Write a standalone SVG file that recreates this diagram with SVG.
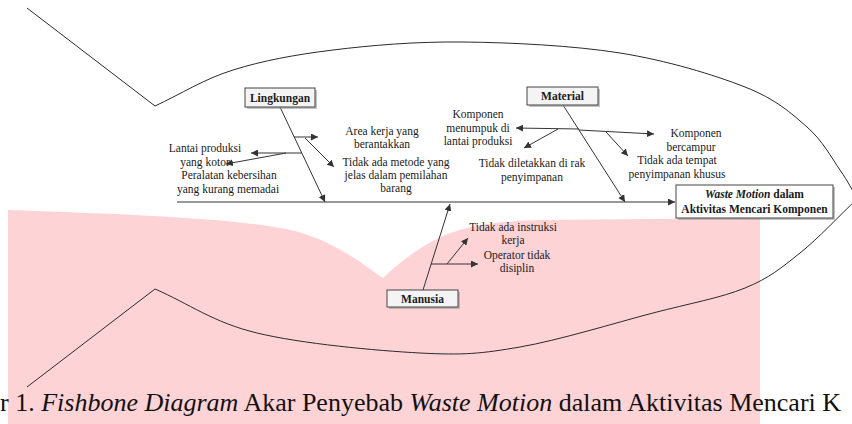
<svg xmlns="http://www.w3.org/2000/svg" width="852" height="424" viewBox="0 0 852 424">
<style>
.bg{fill:#ffffff}
.pink{fill:#fed3d6}
.fish{fill:none;stroke:#2a2a2a;stroke-width:1}
.bone{fill:none;stroke:#333;stroke-width:1;marker-end:url(#ah)}
.t{font-family:"Liberation Serif","Times New Roman",serif;font-size:11.5px;fill:#1a1a1a;text-anchor:middle}
.b{font-weight:bold}
.box{fill:#f4f4f4;stroke:#444;stroke-width:1}
.ebox{fill:#ffffff;stroke:#444;stroke-width:1}
.shadow{fill:#9a9a9a;opacity:0.6}
.cap{font-family:"Liberation Serif","Times New Roman",serif;font-size:26px;fill:#111}
</style>
<defs>
<marker id="ah" markerUnits="userSpaceOnUse" markerWidth="8" markerHeight="7" refX="7" refY="3.5" orient="auto">
<path d="M0,0 L7,3.5 L0,7 Z" fill="#333"/>
</marker>
<linearGradient id="g1" x1="0" y1="0" x2="0" y2="1">
<stop offset="0" stop-color="#ffffff"/>
<stop offset="1" stop-color="#e4e4e4"/>
</linearGradient>
</defs>
<rect class="bg" x="0" y="0" width="852" height="424"/>
<path class="pink" d="M8,210 C120,214 240,218 295,231 C335,242 360,262 383,278 C400,262 420,246 445,235 C470,225 500,221 540,220 L760,218 L760,424 L8,424 Z"/>

<g id="fish">
<path class="fish" d="M27,8 L155,106 C181,94 203.3,79.3 233,70 C262.7,60.7 294.7,54.7 333,50 C371.3,45.3 415.2,41.5 463,42 C510.8,42.5 573,45.5 620,53 C667,60.5 713.8,74.7 745,87 C776.2,99.3 791.2,113.2 807,127 C822.8,140.8 831.5,157.8 840,170 C848.5,182.2 852,190 858,200"/>
<path class="fish" d="M27,387 L155,289 C189,303.7 212.8,322.3 257,333 C301.2,343.7 376.2,350.7 420,353 C463.8,355.3 481.2,353.7 520,347 C558.8,340.3 615.5,322.8 653,313 C690.5,303.2 720.5,298 745,288 C769.5,278 781.2,268 800,253 C818.8,238 838.7,216.3 858,198"/>
</g>

<g id="connectors">
<path class="bone" d="M177,202 H675"/>
<path class="bone" d="M280,107 L325,202"/>
<path class="bone" d="M563,105 L625,202"/>
<path class="bone" d="M423,290 L450,204"/>
<path class="bone" d="M294,137 H318"/>
<path class="bone" d="M305,138 L334,167"/>
<path class="bone" d="M302,153 H251"/>
<path class="bone" d="M286,153 L226,164"/>
<path class="bone" d="M579,129 L516,128"/>
<path class="bone" d="M579,130 L654,134"/>
<path class="bone" d="M558,129 L524,148"/>
<path class="bone" d="M606,132 L628,156"/>
<path class="bone" d="M431,264 H478"/>
<path class="bone" d="M447,264 L468,238"/>
</g>

<g id="effect">
<rect class="shadow" x="678" y="187" width="157" height="33"/>
<rect class="ebox" x="676" y="185" width="157" height="33"/>
<text class="t b" x="754.5" y="198"><tspan font-style="italic">Waste Motion</tspan> dalam</text>
<text class="t b" x="754.5" y="212.5">Aktivitas Mencari Komponen</text>
</g>

<g id="lingkungan">
<rect class="shadow" x="247" y="90" width="70" height="19"/>
<rect class="box" x="245" y="88" width="70" height="19" fill="url(#g1)"/>
<text class="t b" x="280" y="101.5">Lingkungan</text>
</g>

<g id="material">
<rect class="shadow" x="529" y="89" width="71" height="18"/>
<rect class="box" x="527" y="87" width="71" height="18" fill="url(#g1)"/>
<text class="t b" x="562.5" y="100">Material</text>
</g>

<g id="manusia">
<rect class="shadow" x="389" y="292" width="71" height="17"/>
<rect class="box" x="387" y="290" width="71" height="17" fill="url(#g1)"/>
<text class="t b" x="422.5" y="302.5">Manusia</text>
</g>

<g id="lantai-kotor">
<text class="t" x="205" y="152">Lantai produksi</text>
<text class="t" x="205" y="165.5">yang kotor</text>
</g>
<g id="peralatan">
<text class="t" x="229" y="179">Peralatan kebersihan</text>
<text class="t" x="228" y="193">yang kurang memadai</text>
</g>
<g id="area-kerja">
<text class="t" x="382" y="135">Area kerja yang</text>
<text class="t" x="382" y="148">berantakkan</text>
</g>
<g id="metode">
<text class="t" x="396" y="166">Tidak ada metode yang</text>
<text class="t" x="396" y="179">jelas dalam pemilahan</text>
<text class="t" x="396" y="192">barang</text>
</g>
<g id="menumpuk">
<text class="t" x="478" y="117.5">Komponen</text>
<text class="t" x="478" y="131.5">menumpuk di</text>
<text class="t" x="478" y="145">lantai produksi</text>
</g>
<g id="bercampur">
<text class="t" x="696" y="137">Komponen</text>
<text class="t" x="691" y="150.5">bercampur</text>
</g>
<g id="tempat">
<text class="t" x="677" y="163.5">Tidak ada tempat</text>
<text class="t" x="677" y="177.5">penyimpanan khusus</text>
</g>
<g id="diletakkan">
<text class="t" x="532" y="166.5">Tidak diletakkan di rak</text>
<text class="t" x="532" y="180.5">penyimpanan</text>
</g>
<g id="instruksi">
<text class="t" x="513" y="231">Tidak ada instruksi</text>
<text class="t" x="513" y="244">kerja</text>
</g>
<g id="disiplin">
<text class="t" x="517" y="258.5">Operator tidak</text>
<text class="t" x="517" y="272">disiplin</text>
</g>

<text class="cap" x="0" y="411">r 1. <tspan font-style="italic">Fishbone Diagram</tspan> Akar Penyebab <tspan font-style="italic">Waste Motion</tspan> dalam Aktivitas Mencari K</text>
</svg>
